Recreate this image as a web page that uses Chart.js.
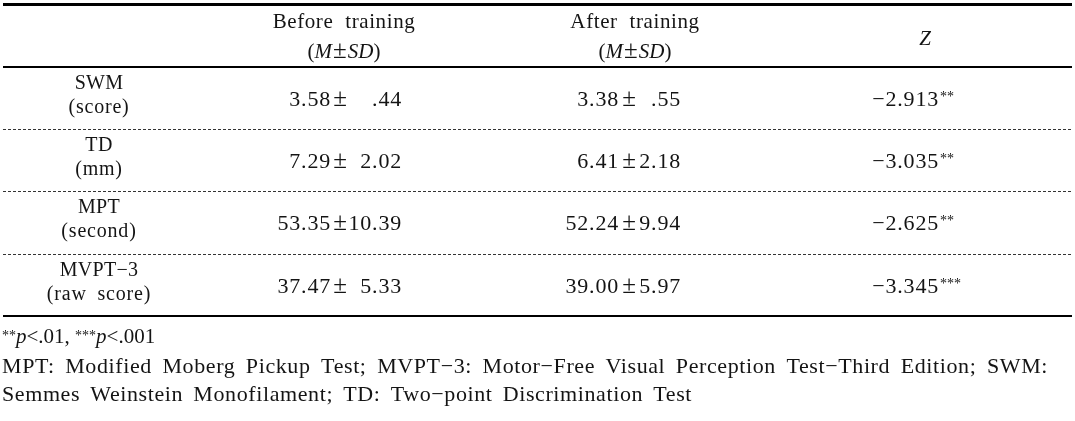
<!DOCTYPE html>
<html>
<head>
<meta charset="utf-8">
<title>Before / after training</title>
<script src="https://cdn.jsdelivr.net/npm/chart.js@4.4.1/dist/chart.umd.min.js"></script>
<style>
    html, body { margin: 0; padding: 0; background: #fff; }
    #contenedor { width: 1075px; height: 421px; }
</style>
</head>
<body>
<div id="contenedor"><canvas id="tabla" width="1075" height="421"></canvas></div>
<script>
// datos de la tabla
const filas = ['SWM', 'TD', 'MPT', 'MVPT\u22123'];
const unidades = ['(score)', '(mm)', '(second)', '(raw score)'];
const antesMedia = [3.58, 7.29, 53.35, 37.47];
const antesDE = [0.44, 2.02, 10.39, 5.33];
const despuesMedia = [3.38, 6.41, 52.24, 39.00];
const despuesDE = [0.55, 2.18, 9.94, 5.97];
const valoresZ = [-2.913, -3.035, -2.625, -3.345];
const significancia = ['**', '**', '**', '***'];
const columnas = ['Before training', 'After training', 'Z'];
const notaP = [['**', '.01'], ['***', '.001']];
const notas = [
    'MPT: Modified Moberg Pickup Test; MVPT\u22123: Motor\u2212Free Visual Perception Test\u2212Third Edition; SWM:',
    'Semmes Weinstein Monofilament; TD: Two\u2212point Discrimination Test'
];

// posiciones (x en pixeles, y en filas)
const COL = { etiqueta: 99, aMedia: 331, aPM: 340, aDE: 402, dMedia: 619, dPM: 629, dDE: 681, z: 939, zHead: 925, aHead: 344, dHead: 635 };
const ALTO_FILA = 62.3;
const CENTRO_CAB = 35.5;
const filaNotas = [4.936, 5.418, 5.867];
const anchoNotas = [1046, 690];
const SERIF = "'Liberation Serif', 'Times New Roman', serif";
const COLOR_TEXTO = '#141414';

function fmt(v, dec) {
    let s = Math.abs(v).toFixed(dec);
    if (Math.abs(v) < 1) s = s.replace(/^0/, '');
    return (v < 0 ? '\u2212' : '') + s;
}

function texto(ctx, str, px, py, align, font, ls, ws) {
    ctx.font = font;
    ctx.letterSpacing = (ls || 0) + 'px';
    ctx.wordSpacing = (ws || 0) + 'px';
    ctx.textAlign = align;
    ctx.textBaseline = 'alphabetic';
    ctx.fillText(str, px, py);
}

// dibuja segmentos con fuentes distintas, centrados o desde la izquierda
function segmentos(ctx, segs, px, py, centrado) {
    let total = 0;
    segs.forEach(s => {
        ctx.font = s.font;
        ctx.letterSpacing = (s.ls || 0) + 'px';
        ctx.wordSpacing = '0px';
        total += ctx.measureText(s.t).width;
    });
    let cx = centrado ? px - total / 2 : px;
    segs.forEach(s => {
        ctx.font = s.font;
        ctx.letterSpacing = (s.ls || 0) + 'px';
        ctx.textAlign = 'left';
        ctx.textBaseline = 'alphabetic';
        ctx.fillText(s.t, cx, py + (s.dy || 0));
        cx += ctx.measureText(s.t).width;
    });
}

const tablaPlugin = {
    id: 'tablaPlugin',
    afterDraw(chart) {
        const { ctx, scales: { x, y } } = chart;
        const izq = x.getPixelForValue(3), der = x.getPixelForValue(1072);

        ctx.save();
        // lineas horizontales
        const linea = (v, w, dash) => {
            const py = Math.round(y.getPixelForValue(v)) + (w % 2 ? 0.5 : 0);
            ctx.beginPath();
            ctx.lineWidth = w;
            ctx.strokeStyle = dash ? '#333' : '#000';
            ctx.setLineDash(dash || []);
            ctx.moveTo(izq, py);
            ctx.lineTo(der, py);
            ctx.stroke();
        };
        linea(-0.5, 3);
        linea(0.5, 2);
        for (let i = 1; i < filas.length; i++) linea(i + 0.5, 1, [3, 2]);
        linea(filas.length + 0.5, 2);
        ctx.setLineDash([]);

        ctx.fillStyle = COLOR_TEXTO;
        const normal = '20px ' + SERIF;
        const cab = '21px ' + SERIF;
        const num = '22px ' + SERIF;
        const pm = '25px ' + SERIF;
        const italica = 'italic 21px ' + SERIF;

        // encabezado
        const yc = y.getPixelForValue(0);
        texto(ctx, columnas[0], x.getPixelForValue(COL.aHead), yc - 7.5, 'center', cab, 0.6, 6);
        texto(ctx, columnas[1], x.getPixelForValue(COL.dHead), yc - 7.5, 'center', cab, 0.6, 6);
        const msd = [
            { t: '(', font: cab }, { t: 'M', font: italica, ls: 1 }, { t: '\u00b1', font: pm, ls: 1 },
            { t: 'SD', font: italica }, { t: ')', font: cab }
        ];
        segmentos(ctx, msd, x.getPixelForValue(COL.aHead), yc + 22.5, true);
        segmentos(ctx, msd, x.getPixelForValue(COL.dHead), yc + 22.5, true);
        texto(ctx, columnas[2], x.getPixelForValue(COL.zHead), yc + 9.5, 'center', italica, 0, 0);

        // filas de datos
        filas.forEach((f, i) => {
            const py = y.getPixelForValue(i + 1);
            texto(ctx, f, x.getPixelForValue(COL.etiqueta), py - 9, 'center', normal, 0.3, 0);
            texto(ctx, unidades[i], x.getPixelForValue(COL.etiqueta), py + 15, 'center', normal, 0.8, 5);

            texto(ctx, fmt(antesMedia[i], 2), x.getPixelForValue(COL.aMedia), py + 8, 'right', num, 0.8);
            texto(ctx, '\u00b1', x.getPixelForValue(COL.aPM), py + 8, 'center', pm, 0);
            texto(ctx, fmt(antesDE[i], 2), x.getPixelForValue(COL.aDE), py + 8, 'right', num, 0.8);

            texto(ctx, fmt(despuesMedia[i], 2), x.getPixelForValue(COL.dMedia), py + 8, 'right', num, 0.8);
            texto(ctx, '\u00b1', x.getPixelForValue(COL.dPM), py + 8, 'center', pm, 0);
            texto(ctx, fmt(despuesDE[i], 2), x.getPixelForValue(COL.dDE), py + 8, 'right', num, 0.8);

            texto(ctx, fmt(valoresZ[i], 3), x.getPixelForValue(COL.z), py + 8, 'right', num, 0.8);
            texto(ctx, significancia[i], x.getPixelForValue(COL.z) + 1, py + 3, 'left', '14px ' + SERIF, 0);
        });

        // notas al pie
        const segsP = [];
        notaP.forEach((n, k) => {
            segsP.push({ t: n[0], font: '14px ' + SERIF, dy: -3 });
            segsP.push({ t: 'p', font: 'italic 21px ' + SERIF });
            segsP.push({ t: '<' + n[1] + (k < notaP.length - 1 ? ', ' : ''), font: '21px ' + SERIF });
        });
        segmentos(ctx, segsP, x.getPixelForValue(2), y.getPixelForValue(filaNotas[0]), false);

        // las lineas largas se ajustan al ancho con el espacio entre palabras
        notas.forEach((n, k) => {
            const fuente = '22px ' + SERIF;
            const ls = 0.6;
            ctx.font = fuente;
            ctx.letterSpacing = ls + 'px';
            ctx.wordSpacing = '0px';
            const w = ctx.measureText(n).width;
            const espacios = n.split(' ').length - 1;
            const ws = Math.max(0, (anchoNotas[k] - w) / espacios);
            texto(ctx, n, x.getPixelForValue(2), y.getPixelForValue(filaNotas[k + 1]), 'left', fuente, ls, ws);
        });
        ctx.restore();
    }
};

// un punto invisible por celda, ubicado con las escalas
const puntos = [];
filas.forEach((f, i) => {
    [COL.etiqueta, COL.aPM, COL.dPM, COL.z].forEach(cx => puntos.push({ x: cx, y: i + 1 }));
});

new Chart(document.getElementById('tabla'), {
    type: 'scatter',
    data: { datasets: [{ label: 'celdas', data: puntos, pointRadius: 0, pointHoverRadius: 0 }] },
    options: {
        responsive: false,
        animation: false,
        events: [],
        layout: { padding: 0 },
        plugins: { legend: { display: false }, tooltip: { enabled: false } },
        scales: {
            x: { type: 'linear', display: false, min: 0, max: 1075 },
            y: { type: 'linear', display: false, reverse: true, min: -CENTRO_CAB / ALTO_FILA, max: (421 - CENTRO_CAB) / ALTO_FILA }
        }
    },
    plugins: [tablaPlugin]
});
</script>
</body>
</html>
